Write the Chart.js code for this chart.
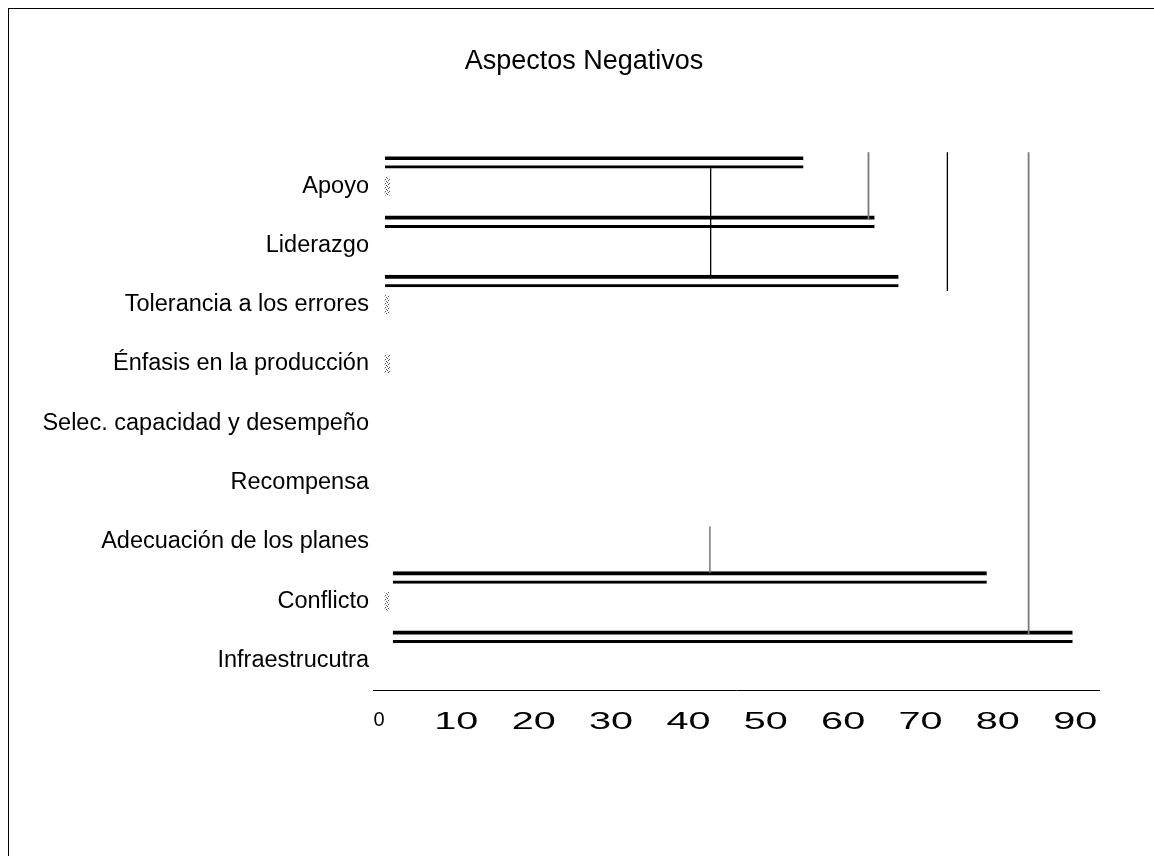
<!DOCTYPE html>
<html>
<head>
<meta charset="utf-8">
<script src="https://cdn.jsdelivr.net/npm/chart.js@4"></script>
<style>
html,body{margin:0;padding:0;background:#fff;overflow:hidden;width:1154px;height:856px;}
#frame{position:absolute;left:8px;top:8px;width:1200px;height:900px;border-left:1px solid #000;border-top:1px solid #000;}
#c{position:absolute;left:0;top:0;}
</style>
</head>
<body>
<div id="frame"></div>
<canvas id="c" width="1154" height="856"></canvas>
<script>
// ---- data ----
const chartTitle = 'Aspectos Negativos';
const categories = [
  'Apoyo',
  'Liderazgo',
  'Tolerancia a los errores',
  'Énfasis en la producción',
  'Selec. capacidad y desempeño',
  'Recompensa',
  'Adecuación de los planes',
  'Conflicto',
  'Infraestrucutra'
];
const xTicks = [0, 10, 20, 30, 40, 50, 60, 70, 80, 90];
// main (outlined) series: start and end of each bar
const mainStart = [0, 0, 0, null, null, null, null, 1.0, 1.0];
const mainEnd   = [54.1, 63.3, 66.4, null, null, null, null, 77.8, 88.9];
// small hatched series
const dottedValues = [0.6, null, 0.5, 0.6, null, null, null, 0.5, null];
// empty series
const emptyValues = [null, null, null, null, null, null, null, null, null];
// vertical reference segments: x value, from / to (category index units)
const refX    = [42.1, 62.5, 72.7, 83.2, 42.0];
const refFrom = [-0.30, -0.57, -0.57, -0.57, 5.74];
const refTo   = [1.54, 0.57, 1.77, 7.56, 6.52];

// ---- styles ----
const refColors = ['#000000', '#7a7a7a', '#000000', '#7a7a7a', '#7a7a7a'];
const refWidths = [1.3, 1.8, 1.3, 1.8, 1.5];
const FONT = 'Liberation Sans';

const canvas = document.getElementById('c');
const ctx = canvas.getContext('2d');

const pc = document.createElement('canvas');
pc.width = 4; pc.height = 4;
const pg = pc.getContext('2d');
pg.fillStyle = '#ffffff'; pg.fillRect(0, 0, 4, 4);
pg.fillStyle = '#555555';
pg.fillRect(0, 0, 1, 1); pg.fillRect(2, 1, 1, 1); pg.fillRect(1, 3, 1, 1); pg.fillRect(3, 2, 1, 1);
const dotPattern = ctx.createPattern(pc, 'repeat');

const barCommon = {
  type: 'bar',
  indexAxis: 'y',
  xAxisID: 'x',
  yAxisID: 'y',
  categoryPercentage: 1,
  barPercentage: 1,
  order: 1
};

const datasets = [
  Object.assign({}, barCommon, {
    label: 'Serie 1',
    data: categories.map((c, i) => mainEnd[i] == null ? null : [mainStart[i], mainEnd[i]]),
    backgroundColor: '#ffffff',
    borderColor: '#000000',
    borderWidth: {top: 4, right: 0, bottom: 3, left: 0},
    borderSkipped: false
  }),
  Object.assign({}, barCommon, { label: 'Serie 2', data: emptyValues.slice() }),
  Object.assign({}, barCommon, {
    label: 'Serie 3',
    data: dottedValues,
    backgroundColor: dotPattern,
    borderWidth: 0,
    barThickness: 18
  }),
  Object.assign({}, barCommon, { label: 'Serie 4', data: emptyValues.slice() }),
  Object.assign({}, barCommon, { label: 'Serie 5', data: emptyValues.slice() })
];

refX.forEach((xv, i) => {
  datasets.push({
    type: 'line',
    label: 'ref' + i,
    indexAxis: 'x',
    xAxisID: 'x',
    yAxisID: 'y2',
    data: [{x: xv, y: refFrom[i]}, {x: xv, y: refTo[i]}],
    borderColor: refColors[i],
    borderWidth: refWidths[i],
    pointRadius: 0,
    fill: false,
    tension: 0,
    clip: false,
    order: 0
  });
});

// horizontally stretched x tick labels (as in the original rendering)
const stretchPlugin = {
  id: 'stretchTicks',
  beforeLayout(chart) {
    const s = chart.scales.x;
    if (!s || s._stretched) return;
    const orig = s.drawLabels;
    s.drawLabels = function (area) {
      const c = this.ctx;
      const fill = CanvasRenderingContext2D.prototype.fillText;
      c.fillText = function (t, x, y) {
        if (!/24px/.test(this.font)) return fill.call(this, t, x, y);
        this.save();
        this.translate(x, y);
        this.scale(1.65, 1);
        fill.call(this, t, 0, 0);
        this.restore();
      };
      try { orig.call(this, area); } finally { delete c.fillText; }
    };
    s._stretched = true;
  },
  // centre the title on the whole frame rather than on the padded box
  afterLayout(chart) {
    const t = chart.titleBlock;
    if (t) { t.left = 14; t.right = chart.width; t.width = t.right - t.left; }
  }
};

new Chart(ctx, {
  data: { labels: categories, datasets: datasets },
  options: {
    responsive: false,
    animation: false,
    devicePixelRatio: 1,
    layout: { padding: { left: 0, right: 55, top: 0, bottom: 101 } },
    plugins: {
      legend: { display: false },
      tooltip: { enabled: false },
      title: {
        display: true,
        text: chartTitle,
        color: '#000',
        font: { family: FONT, size: 27, weight: 'normal' },
        padding: { top: 45, bottom: 79 }
      }
    },
    scales: {
      x: {
        type: 'linear',
        position: 'bottom',
        min: -1.55,
        max: 92.3,
        grid: { display: false, drawTicks: false },
        border: { display: true, color: '#000', width: 1 },
        afterBuildTicks: s => { s.ticks = xTicks.map(v => ({ value: v })); },
        ticks: {
          color: '#000',
          padding: 18,
          labelOffset: -6,
          font: c => (c.tick && c.tick.value === 0)
            ? { family: FONT, size: 20 }
            : { family: FONT, size: 24 }
        }
      },
      y: {
        type: 'category',
        position: 'left',
        offset: true,
        grid: { display: false, drawTicks: false },
        border: { display: false },
        ticks: { color: '#000', padding: 4, font: { family: FONT, size: 23.5 } },
        afterFit: s => { s.width = 373; }
      },
      y2: {
        type: 'linear',
        axis: 'y',
        position: 'right',
        display: false,
        reverse: true,
        min: -0.5,
        max: 8.5
      }
    }
  },
  plugins: [stretchPlugin]
});
</script>
</body>
</html>
